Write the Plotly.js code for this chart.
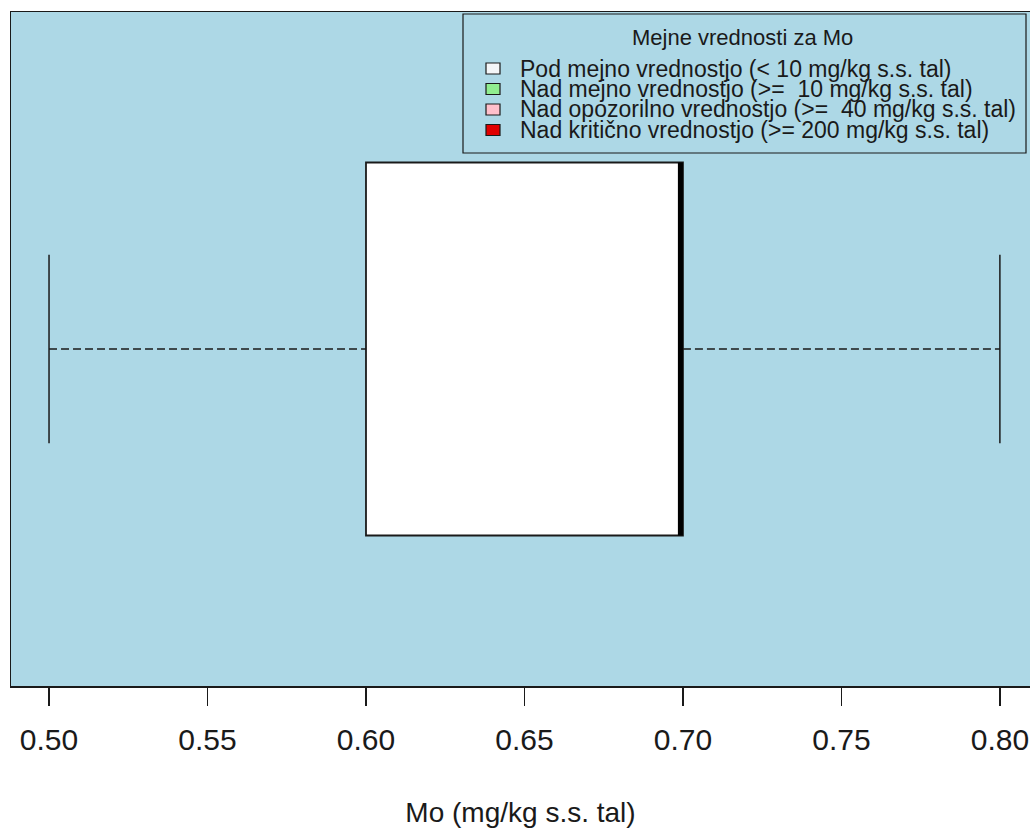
<!DOCTYPE html>
<html>
<head>
<meta charset="utf-8">
<script src="https://cdn.plot.ly/plotly-3.0.1.min.js"></script>
<style>html,body{margin:0;padding:0;background:#fff;}#chart{width:1030px;height:829px;}</style>
</head>
<body>
<div id="chart"></div>
<script>
// ---- data ----
const boxPosition = [1];
const whiskerLow = [0.50];
const quartile1 = [0.60];
const medianVal = [0.70];
const quartile3 = [0.70];
const whiskerHigh = [0.80];
const xTickVals = [0.50, 0.55, 0.60, 0.65, 0.70, 0.75, 0.80];
const xTitle = 'Mo (mg/kg s.s. tal)';
const legendTitle = 'Mejne vrednosti za Mo';
const legendLabels = [
  'Pod mejno vrednostjo (< 10 mg/kg s.s. tal)',
  'Nad mejno vrednostjo (>=  10 mg/kg s.s. tal)',
  'Nad opozorilno vrednostjo (>=  40 mg/kg s.s. tal)',
  'Nad kritično vrednostjo (>= 200 mg/kg s.s. tal)'
];
const legendColors = ['#f4f6f8', '#90ee90', '#ffc0cb', '#e00000'];

// ---- layout geometry (pixels) ----
const W = 1030, H = 829;
const M = {l: 11, r: 0, t: 12, b: 143};
const plotW = W - M.l - M.r, plotH = H - M.t - M.b;
const px = v => (v - M.l) / plotW;
const py = v => (H - M.b - v) / plotH;

const boxHalf = 0.2767;   // half box thickness in y units
const capHalf = 0.140;    // half staple length in y units
const FONT = 'Liberation Sans, Arial, sans-serif';
const INK = '#1a1a1a';

const traces = [];
// box
traces.push({
  type: 'box', orientation: 'h',
  y: boxPosition,
  q1: quartile1, median: medianVal, q3: quartile3,
  lowerfence: quartile1, upperfence: quartile3,
  width: 2 * boxHalf,
  fillcolor: '#ffffff',
  line: {color: INK, width: 1.8},
  boxpoints: false,
  hoverinfo: 'skip', showlegend: false
});
// dashed whiskers
const wx = [], wy = [];
boxPosition.forEach((p, i) => {
  wx.push(whiskerLow[i], quartile1[i], null, quartile3[i], whiskerHigh[i], null);
  wy.push(p, p, null, p, p, null);
});
traces.push({
  type: 'scatter', mode: 'lines', x: wx, y: wy,
  line: {color: INK, width: 1.5, dash: '8px,4px'},
  hoverinfo: 'skip', showlegend: false
});
// staples
const sx = [], sy = [];
boxPosition.forEach((p, i) => {
  sx.push(whiskerLow[i], whiskerLow[i], null, whiskerHigh[i], whiskerHigh[i], null);
  sy.push(p - capHalf, p + capHalf, null, p - capHalf, p + capHalf, null);
});
traces.push({
  type: 'scatter', mode: 'lines', x: sx, y: sy,
  line: {color: INK, width: 1.5},
  hoverinfo: 'skip', showlegend: false
});
// thick median
const mx = [], my = [];
boxPosition.forEach((p, i) => {
  mx.push(medianVal[i] - 0.0008, medianVal[i] - 0.0008, null);
  my.push(p - boxHalf, p + boxHalf, null);
});
traces.push({
  type: 'scatter', mode: 'lines', x: mx, y: my,
  line: {color: '#000000', width: 5},
  hoverinfo: 'skip', showlegend: false
});

// ---- manual legend (R style) ----
const shapes = [{
  type: 'rect', xref: 'paper', yref: 'paper',
  x0: px(463), x1: px(1026), y0: py(153), y1: py(14),
  fillcolor: '#add8e6', line: {color: INK, width: 1.2}, layer: 'above'
}];
const annotations = [{
  xref: 'paper', yref: 'paper', x: px(742), y: py(37),
  xanchor: 'center', yanchor: 'middle', showarrow: false,
  text: legendTitle, font: {family: FONT, size: 22, color: INK}
}];
const rowY = [68.5, 89, 109.5, 130];
legendLabels.forEach((lab, i) => {
  const yc = rowY[i];
  shapes.push({
    type: 'rect', xref: 'paper', yref: 'paper',
    x0: px(486), x1: px(500), y0: py(yc + 5.5), y1: py(yc - 5.5),
    fillcolor: legendColors[i], line: {color: INK, width: 1.2}, layer: 'above'
  });
  annotations.push({
    xref: 'paper', yref: 'paper', x: px(518), y: py(yc),
    xanchor: 'left', yanchor: 'middle', showarrow: false,
    text: lab, font: {family: FONT, size: 23, color: INK}
  });
});

const layout = {
  width: W, height: H,
  margin: M,
  paper_bgcolor: '#ffffff',
  plot_bgcolor: '#add8e6',
  showlegend: false,
  font: {family: FONT, color: INK},
  xaxis: {
    range: [0.488, 0.8095],
    tickvals: xTickVals,
    tickformat: '.2f',
    ticks: 'outside', ticklen: 18, tickwidth: 1.5, tickcolor: INK,
    ticklabelstandoff: 8,
    tickfont: {family: FONT, size: 30, color: INK},
    showgrid: false, zeroline: false,
    showline: true, mirror: true, linecolor: INK, linewidth: 1.5,
    automargin: false,
    title: {text: xTitle, font: {family: FONT, size: 28, color: INK}, standoff: 48}
  },
  yaxis: {
    range: [0.5, 1.5],
    showticklabels: false, ticks: '',
    showgrid: false, zeroline: false,
    showline: true, mirror: false, linecolor: INK, linewidth: 1.5,
    automargin: false, fixedrange: true
  },
  shapes: shapes,
  annotations: annotations
};

Plotly.newPlot('chart', traces, layout, {displayModeBar: false, staticPlot: true});
</script>
</body>
</html>
